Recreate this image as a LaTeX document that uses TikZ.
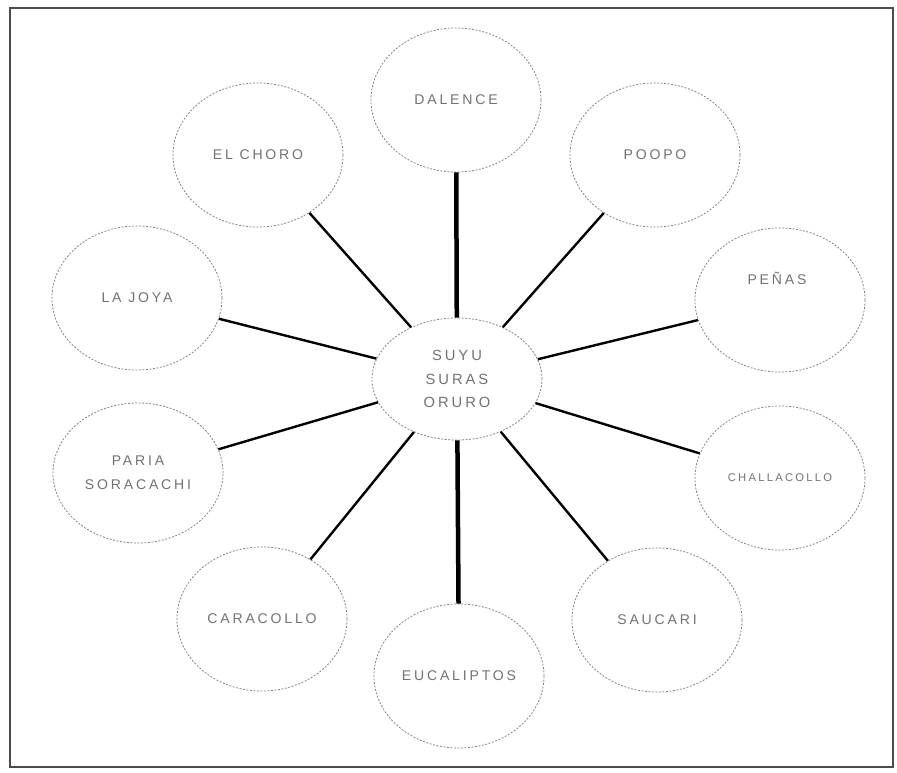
\documentclass[tikz,border=0pt]{standalone}
\usepackage{fontspec}
\setmainfont{Liberation Sans}
\newfontfamily\spacedfont[LetterSpace=20]{Liberation Sans}
\usetikzlibrary{shapes.geometric}

\begin{document}
\begin{tikzpicture}[
  x=0.025cm, y=-0.025cm,
  town/.style={ellipse, draw=black!50, line width=0.55pt,
               dash pattern=on 1.4pt off 1.1pt, fill=white, inner sep=0pt,
               minimum width=4.25cm, minimum height=3.6cm, align=center,
               text=black!55, font=\spacedfont\fontsize{10}{17}\selectfont},
  hub/.style={town, minimum height=3.05cm, font=\spacedfont\fontsize{10.5}{17}\selectfont},
  spoke/.style={line width=1.7pt},
  trunk/.style={line width=3.2pt}
]
  \useasboundingbox (0,0) rectangle (897,772);

  % Frame
  \draw[black!70, line width=0.8pt] (10,8) rectangle (893,767);

  % Centre
  \node[hub] (oruro) at (457,379) {SUYU\\SURAS\\ORURO};

  % Surrounding towns
  \node[town] (dalence) at (456,100) {DALENCE};
  \node[town] (poopo) at (655,155) {POOPO};
  \node[town] (penas) at (780,300) {};
  \node[text=black!55, font=\spacedfont\fontsize{10}{11}\selectfont] (penastxt) at (777,278) {PEÑAS};
  \node[town, font=\spacedfont\fontsize{8}{9}\selectfont] (challacollo) at (780,478) {CHALLACOLLO};
  \node[town] (saucari) at (657,620) {SAUCARI};
  \node[town] (eucaliptos) at (459,676) {EUCALIPTOS};
  \node[town] (caracollo) at (262,619) {CARACOLLO};
  \node[town, minimum height=3.5cm] (paria) at (138,473) {PARIA\\SORACACHI};
  \node[town] (lajoya) at (137,298) {LA JOYA};
  \node[town] (elchoro) at (258,155) {EL CHORO};

  % Spokes
  \draw[trunk] (oruro) -- (dalence);
  \draw[trunk] (oruro) -- (eucaliptos);
  \foreach \t in {poopo, penas, challacollo, saucari, caracollo, paria, lajoya, elchoro}
    \draw[spoke] (oruro) -- (\t);
\end{tikzpicture}
\end{document}
